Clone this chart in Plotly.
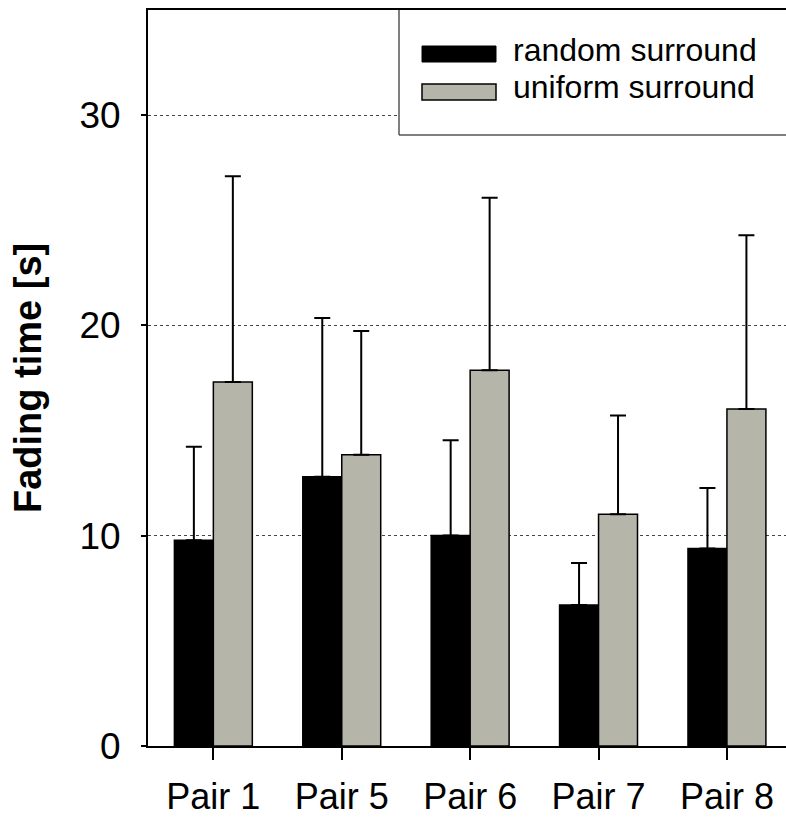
import plotly.graph_objects as go

# ---- data ----
categories = ["Pair 1", "Pair 5", "Pair 6", "Pair 7", "Pair 8"]
random_vals = [9.79, 12.80, 10.01, 6.70, 9.39]
random_err = [4.44, 7.55, 4.53, 2.00, 2.88]
uniform_vals = [17.31, 13.85, 17.87, 11.02, 16.02]
uniform_err = [9.79, 5.89, 8.20, 4.70, 8.27]
y_ticks = [0, 10, 20, 30]
series_names = ["random surround", "uniform surround"]
y_title = "Fading time [s]"

W, H = 786, 817
L, R, T, B = 148, 0, 10, 71
PW, PH = W - L - R, H - T - B

def px_x(p):
    return (p - L) / PW

def px_y(p):
    return (H - B - p) / PH

BLACK = "#000000"
GRAY = "#B5B5AA"
REG = "Liberation Sans, Arial, sans-serif"

fig = go.Figure()
fig.add_trace(go.Bar(
    x=categories, y=random_vals, name=series_names[0],
    marker=dict(color=BLACK, line=dict(color=BLACK, width=1.5)),
    error_y=dict(type="data", array=random_err, arrayminus=[0]*5, symmetric=False,
                 color=BLACK, thickness=2, width=8),
))
fig.add_trace(go.Bar(
    x=categories, y=uniform_vals, name=series_names[1],
    marker=dict(color=GRAY, line=dict(color=BLACK, width=1.5)),
    error_y=dict(type="data", array=uniform_err, arrayminus=[0]*5, symmetric=False,
                 color=BLACK, thickness=2, width=8),
))

fig.update_layout(
    width=W, height=H,
    margin=dict(l=L, r=R, t=T, b=B, pad=0),
    paper_bgcolor="white", plot_bgcolor="white",
    barmode="group", bargap=0.393, bargroupgap=0,
    showlegend=False,
    font=dict(family=REG, color="black"),
)
fig.update_xaxes(
    type="category", range=[-0.509, 4.46],
    showline=True, linecolor="black", linewidth=2, mirror=True,
    ticks="outside", ticklen=12, tickwidth=1.5, tickcolor="black",
    tickfont=dict(family=REG, size=36, color="black"),
    ticklabelstandoff=6,
    showgrid=False, zeroline=False,
)
fig.update_yaxes(
    range=[0, 35], tickvals=y_ticks, ticktext=[str(v) for v in y_ticks],
    showline=True, linecolor="black", linewidth=2,
    ticks="outside", ticklen=5, tickwidth=1.5, tickcolor="black",
    tickfont=dict(family=REG, size=37, color="black"),
    ticklabelstandoff=13,
    showgrid=True, gridcolor="#444444", gridwidth=1, griddash="dot",
    zeroline=False,
)

# manual legend
shapes = [
    dict(type="rect", xref="paper", yref="paper", x0=px_x(399), x1=1.02, y0=px_y(135), y1=px_y(11.5),
         fillcolor="white", line=dict(width=0), layer="above"),
    dict(type="line", xref="paper", yref="paper", x0=px_x(399), x1=px_x(399), y0=px_y(135), y1=1,
         line=dict(color="#555555", width=1.5), layer="above"),
    dict(type="line", xref="paper", yref="paper", x0=px_x(399), x1=1.02, y0=px_y(135), y1=px_y(135),
         line=dict(color="#555555", width=1.5), layer="above"),
    dict(type="rect", xref="paper", yref="paper", x0=px_x(422), x1=px_x(496), y0=px_y(62), y1=px_y(46),
         fillcolor=BLACK, line=dict(color=BLACK, width=1), layer="above"),
    dict(type="rect", xref="paper", yref="paper", x0=px_x(422), x1=px_x(496), y0=px_y(100), y1=px_y(84),
         fillcolor=GRAY, line=dict(color=BLACK, width=1.5), layer="above"),
]
annotations = [
    dict(xref="paper", yref="paper", x=px_x(511), y=px_y(50), text=series_names[0], showarrow=False,
         xanchor="left", yanchor="middle", font=dict(family=REG, size=32, color="black")),
    dict(xref="paper", yref="paper", x=px_x(511), y=px_y(87), text=series_names[1], showarrow=False,
         xanchor="left", yanchor="middle", font=dict(family=REG, size=32, color="black")),
    dict(xref="paper", yref="paper", x=px_x(28), y=0.5, text="<b>" + y_title + "</b>", showarrow=False,
         textangle=-90, xanchor="center", yanchor="middle",
         font=dict(family=REG, size=38, color="black")),
]
fig.update_layout(shapes=shapes, annotations=annotations)

fig.write_html("out.html")
